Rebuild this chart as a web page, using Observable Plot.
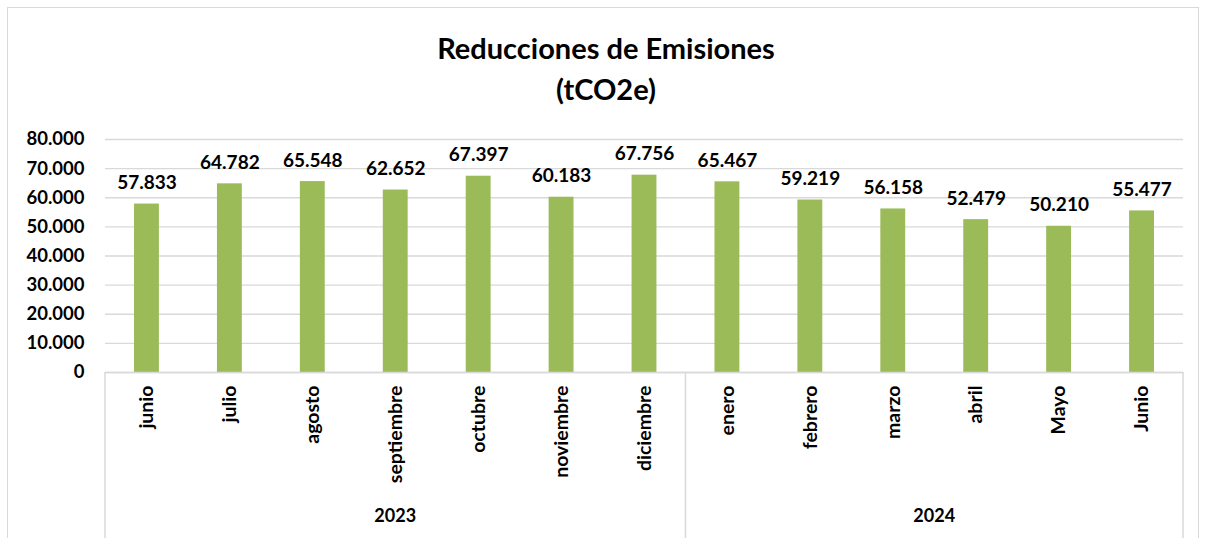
<!DOCTYPE html>
<html><head><meta charset="utf-8">
<script src="https://cdn.jsdelivr.net/npm/d3@7"></script>
<script src="https://cdn.jsdelivr.net/npm/@observablehq/plot@0.6"></script>
<style>
body{margin:0;background:#fff;font-family:Lato,"Open Sans",sans-serif;}
#frame{position:absolute;left:7px;top:7px;width:1192px;height:545px;border:1px solid #d9d9d9;box-sizing:border-box;}
#title{position:absolute;left:0;top:27px;width:1212px;text-align:center;font-weight:bold;font-size:29px;line-height:41px;color:#000;}
#chart{position:absolute;left:0;top:110px;}
</style>
</head><body>
<div id="frame"></div>
<div id="title">Reducciones de Emisiones<br>(tCO2e)</div>
<div id="chart"></div>
<script>
const months = ["junio","julio","agosto","septiembre","octubre","noviembre","diciembre","enero","febrero","marzo","abril","Mayo","Junio"];
const years = ["2023","2023","2023","2023","2023","2023","2023","2024","2024","2024","2024","2024","2024"];
const values = [57833,64782,65548,62652,67397,60183,67756,65467,59219,56158,52479,50210,55477];
const yTicks = [0,10000,20000,30000,40000,50000,60000,70000,80000];

const data = months.map((m,i)=>({month:m, year:years[i], value:values[i]}));
const loc = d3.formatLocale({decimal:",", thousands:".", grouping:[3], currency:["","€"]});
const fmt = loc.format(",d");
const font = "Lato, 'Open Sans', sans-serif";

const plot = Plot.plot({
  width: 1206,
  height: 428,
  marginTop: 29,
  marginBottom: 166,
  marginLeft: 105,
  marginRight: 23,
  style: {fontFamily: font, color: "#000", background: "transparent", overflow: "visible"},
  x: {domain: months, paddingInner: 0.7, paddingOuter: 0.35, round: false},
  y: {domain: [0, 80000]},
  marks: [
    Plot.gridY(yTicks, {stroke: "#d9d9d9", strokeOpacity: 1, strokeWidth: 1.3}),
    Plot.barY(data, {x: "month", y: "value", fill: "#9BBB59"}),
    Plot.ruleY([0], {stroke: "#d9d9d9", strokeWidth: 1.5}),
    Plot.axisY(yTicks, {tickFormat: fmt, tickSize: 0, tickPadding: 21, fontSize: 18.5, fontWeight: "bold", label: null}),
    Plot.axisX({tickRotate: -90, tickSize: 0, tickPadding: 13, fontSize: 19.5, fontWeight: "bold", label: null}),
    Plot.text(data, {x: "month", y: "value", text: d => fmt(d.value), dy: -21, fontSize: 19, fontWeight: "bold", fill: "#000"})
  ]
});
document.getElementById("chart").appendChild(plot);

// group dividers and year labels, positioned from the plot's own scales
const xs = plot.scale("x"), ys = plot.scale("y");
const gap = xs.step - xs.bandwidth;
const y0 = ys.apply(0);
const svg = d3.select(plot);
const groups = d3.groups(data, d => d.year);
const bounds = [];
groups.forEach(([yr, rows], gi) => {
  const first = xs.apply(rows[0].month), last = xs.apply(rows[rows.length-1].month);
  if (gi === 0) bounds.push(first - gap/2);
  bounds.push(last + xs.bandwidth + gap/2);
  svg.append("text")
    .attr("x", (first + last)/2 + xs.bandwidth/2)
    .attr("y", 407)
    .attr("text-anchor", "middle")
    .attr("dominant-baseline", "middle")
    .attr("font-size", 18).attr("font-weight", "bold").attr("font-family", font)
    .attr("fill", "#000")
    .text(yr);
});
bounds.forEach(b => {
  svg.append("line").attr("x1", b).attr("x2", b).attr("y1", y0).attr("y2", 428)
    .attr("stroke", "#d9d9d9").attr("stroke-width", 1.5);
});
</script>
</body></html>
